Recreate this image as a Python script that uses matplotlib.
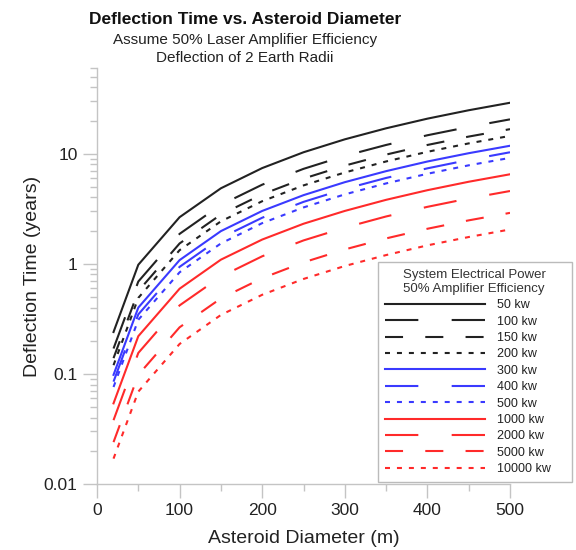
import matplotlib
matplotlib.use("Agg")
import matplotlib.pyplot as plt
from matplotlib.ticker import LogLocator, NullFormatter, FixedLocator

plt.rcParams['font.family'] = ['Liberation Sans', 'DejaVu Sans']
plt.rcParams['lines.scale_dashes'] = False

# ------------------ DATA ------------------
diameter = [20, 50, 100, 150, 200, 250, 300, 350, 400, 450, 500]

t_50kw = [0.24, 0.98, 2.65, 4.85, 7.4, 10.3, 13.5, 17.0, 20.8, 24.8, 29.0]
t_100kw = [0.17, 0.69, 1.87, 3.43, 5.23, 7.28, 9.55, 12.0, 14.7, 17.5, 20.5]
t_150kw = [0.139, 0.565, 1.53, 2.80, 4.27, 5.94, 7.79, 9.81, 12.0, 14.3, 16.7]
t_200kw = [0.12, 0.49, 1.33, 2.43, 3.7, 5.15, 6.75, 8.5, 10.4, 12.4, 14.5]
t_300kw = [0.098, 0.40, 1.08, 1.98, 3.02, 4.20, 5.51, 6.94, 8.49, 10.1, 11.8]
t_400kw = [0.085, 0.347, 0.938, 1.72, 2.62, 3.65, 4.78, 6.02, 7.36, 8.78, 10.3]
t_500kw = [0.076, 0.31, 0.837, 1.53, 2.34, 3.25, 4.27, 5.37, 6.57, 7.84, 9.16]
t_1000kw = [0.054, 0.22, 0.594, 1.09, 1.66, 2.31, 3.02, 3.81, 4.66, 5.56, 6.5]
t_2000kw = [0.038, 0.155, 0.419, 0.766, 1.17, 1.63, 2.13, 2.69, 3.29, 3.92, 4.58]
t_5000kw = [0.024, 0.098, 0.265, 0.485, 0.74, 1.03, 1.35, 1.70, 2.08, 2.48, 2.9]
t_10000kw = [0.017, 0.069, 0.187, 0.343, 0.523, 0.728, 0.955, 1.20, 1.47, 1.75, 2.05]

labels = ["50 kw", "100 kw", "150 kw", "200 kw", "300 kw", "400 kw", "500 kw",
          "1000 kw", "2000 kw", "5000 kw", "10000 kw"]
series = [t_50kw, t_100kw, t_150kw, t_200kw, t_300kw, t_400kw, t_500kw,
          t_1000kw, t_2000kw, t_5000kw, t_10000kw]

# ------------------ STYLE ------------------
black = "#222222"
blue = "#3a3aff"
red = "#ff2a2a"
solid = None
long_dash = (0, (24, 24))
med_dash = (0, (13, 16))
dots = (0, (3.6, 5))
styles = [(black, solid), (black, long_dash), (black, med_dash), (black, dots),
          (blue, solid), (blue, long_dash), (blue, dots),
          (red, solid), (red, long_dash), (red, med_dash), (red, dots)]

fig = plt.figure(figsize=(5.76, 5.5), dpi=100)
ax = fig.add_axes([97 / 576, 66 / 550, 413 / 576, 416 / 550])

for vals, lab, (col, ls) in zip(series, labels, styles):
    if ls is None:
        ax.plot(diameter, vals, color=col, lw=1.5, label=lab)
    else:
        ax.plot(diameter, vals, color=col, lw=1.5, linestyle=ls, label=lab)

ax.set_yscale("log")
ax.set_xlim(0, 500)
ax.set_ylim(0.01, 60)

ax.xaxis.set_major_locator(FixedLocator([0, 100, 200, 300, 400, 500]))
ax.xaxis.set_minor_locator(FixedLocator([50, 150, 250, 350, 450]))
ax.yaxis.set_major_locator(FixedLocator([0.01, 0.1, 1, 10]))
ax.set_yticklabels(["0.01", "0.1", "1", "10"])
ax.yaxis.set_minor_locator(LogLocator(base=10, subs=range(2, 10)))
ax.yaxis.set_minor_formatter(NullFormatter())

grey = "#c4c4c4"
for s in ["top", "right"]:
    ax.spines[s].set_visible(False)
for s in ["left", "bottom"]:
    ax.spines[s].set_color(grey)
    ax.spines[s].set_linewidth(1.0)
ax.tick_params(which="major", length=10, color=grey, width=1.0,
               labelsize=12.5, labelcolor="#222222", pad=4)
ax.tick_params(which="minor", length=5, color=grey, width=1.0)

ax.set_xlabel("Asteroid Diameter (m)", fontsize=14, color="#222222", labelpad=8)
ax.set_ylabel("Deflection Time (years)", fontsize=14, color="#222222", labelpad=2)

fig.text(245 / 576, 1 - 19 / 550, "Deflection Time vs. Asteroid Diameter",
         ha="center", va="center", fontsize=12.5, fontweight="bold", color="#111111")
fig.text(245 / 576, 1 - 40 / 550, "Assume 50% Laser Amplifier Efficiency",
         ha="center", va="center", fontsize=11, color="#222222")
fig.text(245 / 576, 1 - 58 / 550, "Deflection of 2 Earth Radii",
         ha="center", va="center", fontsize=11, color="#222222")

leg = ax.legend(title="System Electrical Power\n50% Amplifier Efficiency",
                loc="lower left", bbox_to_anchor=(0.680, 0.005, 0.470, 0.53),
                mode="expand", fontsize=9, title_fontsize=9.5, handlelength=8,
                handletextpad=1.0, labelspacing=0.35, borderaxespad=0,
                borderpad=0.55, fancybox=False,
                framealpha=1, edgecolor="#bbbbbb")
leg.get_frame().set_linewidth(1.0)
leg.get_title().set_color("#333333")
for t in leg.get_texts():
    t.set_color("#222222")

fig.savefig("out.png", dpi=100)
